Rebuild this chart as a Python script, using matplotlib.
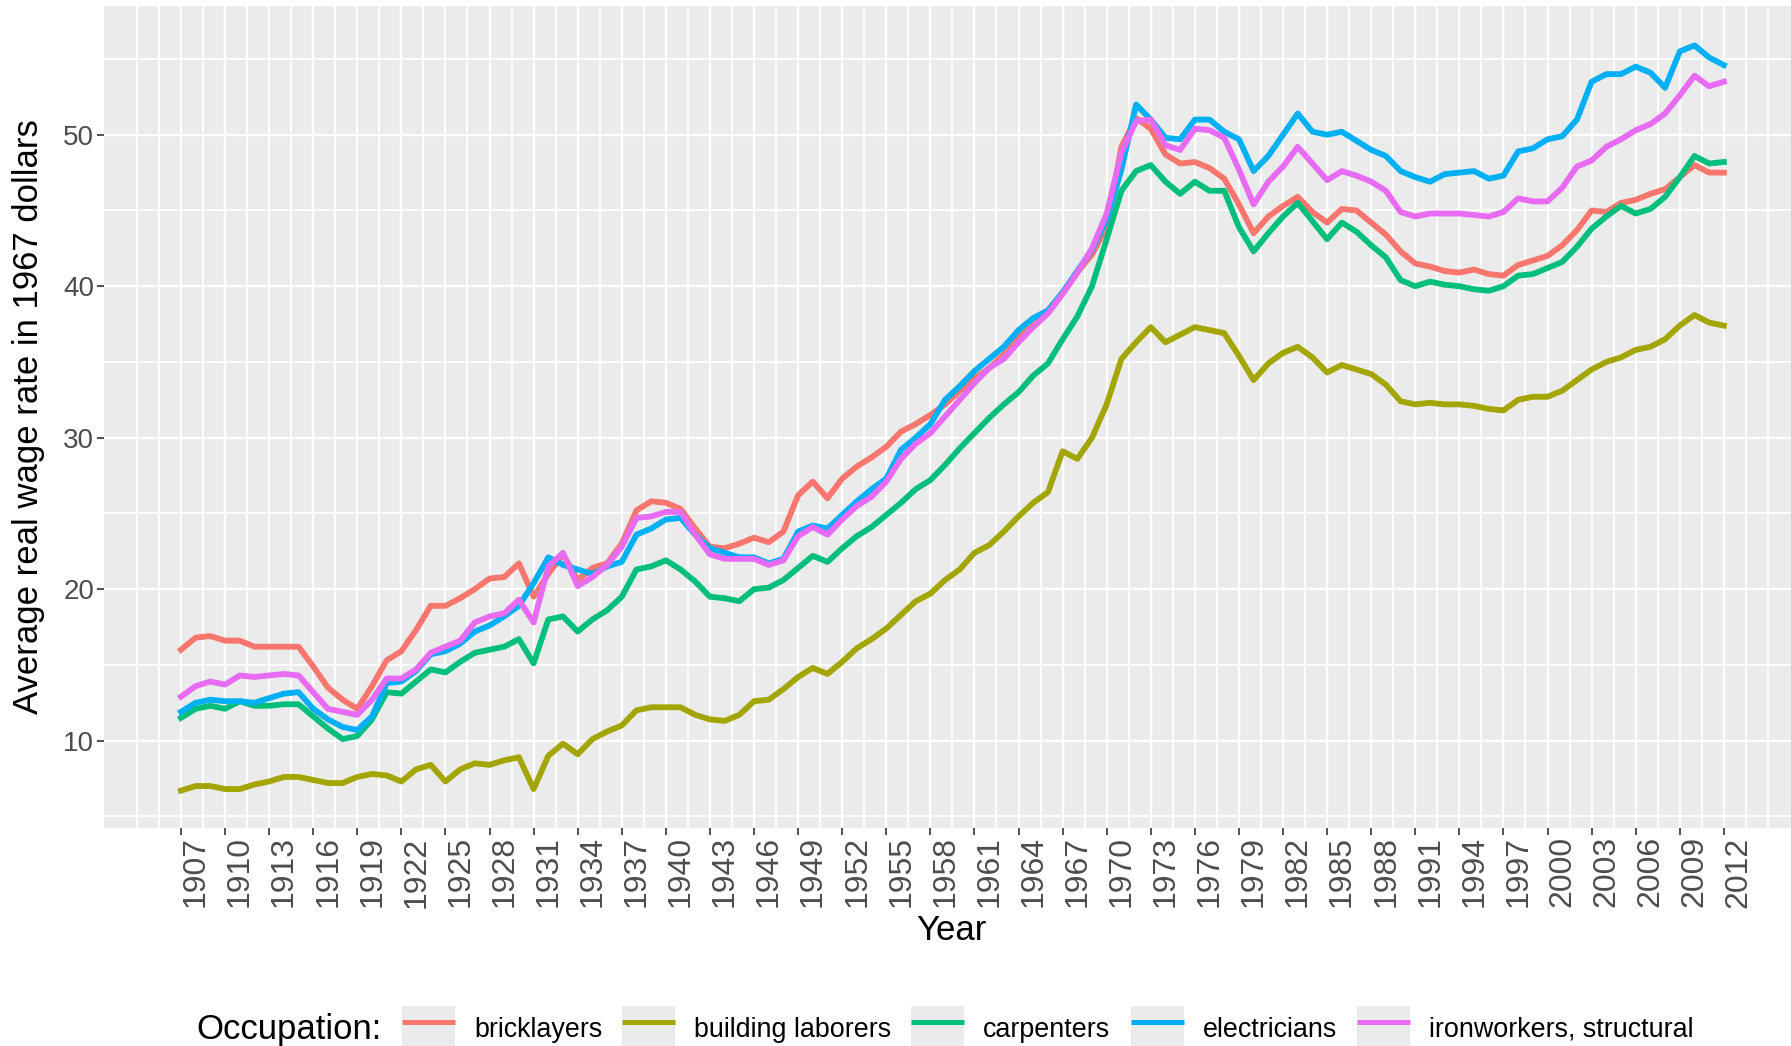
import numpy as np
import matplotlib
matplotlib.use("Agg")
import matplotlib.pyplot as plt
from matplotlib.lines import Line2D
from matplotlib.patches import Rectangle
from matplotlib.legend_handler import HandlerTuple

# Data: average real wage rate (1967 dollars), one value per year 1907-2012
years = np.arange(1907, 2013)

bricklayers = [
    16.0, 16.8, 16.9, 16.6, 16.6, 16.2, 16.2, 16.2, 16.2, 14.9,
    13.5, 12.7, 12.1, 13.6, 15.3, 15.9, 17.3, 18.9, 18.9, 19.4,
    20.0, 20.7, 20.8, 21.7, 19.5, 21.0, 22.3, 20.6, 21.4, 21.7,
    23.0, 25.2, 25.8, 25.7, 25.3, 24.0, 22.8, 22.7, 23.0, 23.4,
    23.1, 23.8, 26.2, 27.1, 26.0, 27.3, 28.1, 28.7, 29.4, 30.4,
    30.9, 31.5, 32.2, 33.1, 33.9, 34.6, 35.5, 36.6, 37.4, 38.3,
    39.5, 40.9, 42.1, 43.9, 49.2, 51.1, 50.4, 48.7, 48.1, 48.2,
    47.8, 47.1, 45.4, 43.5, 44.6, 45.3, 45.9, 44.9, 44.2, 45.1,
    45.0, 44.2, 43.4, 42.3, 41.5, 41.3, 41.0, 40.9, 41.1, 40.8,
    40.7, 41.4, 41.7, 42.0, 42.7, 43.7, 45.0, 44.9, 45.5, 45.7,
    46.1, 46.4, 47.2, 48.0, 47.5, 47.5]

building_laborers = [
    6.7, 7.0, 7.0, 6.8, 6.8, 7.1, 7.3, 7.6, 7.6, 7.4,
    7.2, 7.2, 7.6, 7.8, 7.7, 7.3, 8.1, 8.4, 7.3, 8.1,
    8.5, 8.4, 8.7, 8.9, 6.8, 9.0, 9.8, 9.1, 10.1, 10.6,
    11.0, 12.0, 12.2, 12.2, 12.2, 11.7, 11.4, 11.3, 11.7, 12.6,
    12.7, 13.4, 14.2, 14.8, 14.4, 15.2, 16.1, 16.7, 17.4, 18.3,
    19.2, 19.7, 20.6, 21.3, 22.4, 22.9, 23.8, 24.8, 25.7, 26.4,
    29.1, 28.6, 30.0, 32.2, 35.2, 36.3, 37.3, 36.3, 36.8, 37.3,
    37.1, 36.9, 35.4, 33.8, 34.9, 35.6, 36.0, 35.3, 34.3, 34.8,
    34.5, 34.2, 33.5, 32.4, 32.2, 32.3, 32.2, 32.2, 32.1, 31.9,
    31.8, 32.5, 32.7, 32.7, 33.1, 33.8, 34.5, 35.0, 35.3, 35.8,
    36.0, 36.5, 37.4, 38.1, 37.6, 37.4]

carpenters = [
    11.5, 12.1, 12.3, 12.1, 12.6, 12.3, 12.3, 12.4, 12.4, 11.6,
    10.8, 10.1, 10.3, 11.4, 13.2, 13.1, 13.9, 14.7, 14.5, 15.2,
    15.8, 16.0, 16.2, 16.7, 15.1, 18.0, 18.2, 17.2, 18.0, 18.6,
    19.5, 21.3, 21.5, 21.9, 21.3, 20.5, 19.5, 19.4, 19.2, 20.0,
    20.1, 20.6, 21.4, 22.2, 21.8, 22.7, 23.5, 24.1, 24.9, 25.7,
    26.6, 27.2, 28.2, 29.3, 30.3, 31.3, 32.2, 33.0, 34.1, 34.9,
    36.5, 38.0, 40.0, 43.1, 46.3, 47.6, 48.0, 46.9, 46.1, 46.9,
    46.3, 46.3, 43.9, 42.3, 43.5, 44.6, 45.5, 44.3, 43.1, 44.2,
    43.6, 42.7, 41.9, 40.4, 40.0, 40.3, 40.1, 40.0, 39.8, 39.7,
    40.0, 40.7, 40.8, 41.2, 41.6, 42.6, 43.8, 44.6, 45.3, 44.8,
    45.1, 45.9, 47.2, 48.6, 48.1, 48.2]

electricians = [
    11.9, 12.5, 12.7, 12.6, 12.6, 12.5, 12.8, 13.1, 13.2, 12.1,
    11.4, 10.9, 10.7, 11.6, 13.8, 13.9, 14.6, 15.7, 15.9, 16.4,
    17.2, 17.6, 18.2, 18.9, 20.4, 22.1, 21.6, 21.3, 21.0, 21.5,
    21.8, 23.6, 24.0, 24.6, 24.7, 23.6, 22.7, 22.4, 22.1, 22.1,
    21.7, 22.0, 23.8, 24.2, 24.0, 24.9, 25.8, 26.6, 27.3, 29.2,
    30.0, 30.9, 32.5, 33.4, 34.4, 35.2, 36.0, 37.1, 37.9, 38.4,
    39.6, 41.0, 42.4, 44.4, 47.7, 52.0, 51.0, 49.8, 49.7, 51.0,
    51.0, 50.2, 49.7, 47.6, 48.6, 50.0, 51.4, 50.2, 50.0, 50.2,
    49.6, 49.0, 48.6, 47.6, 47.2, 46.9, 47.4, 47.5, 47.6, 47.1,
    47.3, 48.9, 49.1, 49.7, 49.9, 51.0, 53.5, 54.0, 54.0, 54.5,
    54.1, 53.1, 55.5, 55.9, 55.1, 54.6]

ironworkers = [
    12.9, 13.6, 13.9, 13.7, 14.3, 14.2, 14.3, 14.4, 14.3, 13.2,
    12.1, 11.9, 11.7, 12.7, 14.1, 14.1, 14.7, 15.8, 16.2, 16.6,
    17.8, 18.2, 18.4, 19.3, 17.8, 21.5, 22.4, 20.2, 20.8, 21.6,
    22.8, 24.7, 24.8, 25.1, 25.1, 23.6, 22.3, 22.0, 22.0, 22.0,
    21.6, 21.9, 23.5, 24.1, 23.6, 24.6, 25.5, 26.1, 27.1, 28.6,
    29.6, 30.3, 31.4, 32.5, 33.6, 34.6, 35.2, 36.3, 37.3, 38.2,
    39.5, 40.9, 42.5, 44.8, 48.8, 50.9, 51.0, 49.3, 49.0, 50.4,
    50.3, 49.8, 47.7, 45.4, 46.9, 47.9, 49.2, 48.1, 47.0, 47.6,
    47.3, 46.9, 46.3, 44.9, 44.6, 44.8, 44.8, 44.8, 44.7, 44.6,
    44.9, 45.8, 45.6, 45.6, 46.5, 47.9, 48.3, 49.2, 49.7, 50.3,
    50.7, 51.4, 52.6, 53.9, 53.2, 53.5]

labels = ["bricklayers", "building laborers", "carpenters",
          "electricians", "ironworkers, structural"]
colors = ["#F8766D", "#A3A500", "#00BF7D", "#00B0F6", "#E76BF3"]
series = [bricklayers, building_laborers, carpenters, electricians, ironworkers]

year_ticks = np.arange(1907, 2013, 3)

plt.rcParams['font.family'] = ['Liberation Sans', 'DejaVu Sans']

W, H = 1791, 1046
fig = plt.figure(figsize=(W / 100, H / 100), dpi=100)

# panel in pixel terms (it runs a little past the right edge, like the source)
left, right, top, bottom = 103.8, 1801, 6, 828
ax = fig.add_axes([left / W, 1 - bottom / H, (right - left) / W, (bottom - top) / H])
ax.set_facecolor("#EBEBEB")
for s in ax.spines.values():
    s.set_visible(False)

for vals, col in zip(series, colors):
    ax.plot(years, vals, color=col, lw=4.2, solid_joinstyle="round", zorder=3)

ax.set_xlim(1901.75, 2017.25)
ax.set_ylim(4.23, 58.5)

ax.set_xticks(year_ticks)
ax.set_xticklabels([str(y) for y in year_ticks], rotation=90, ha="left")
ax.set_xticks(np.arange(1904, 2016, 1.5), minor=True)
ax.set_yticks([10, 20, 30, 40, 50])
ax.set_yticks([5, 15, 25, 35, 45, 55], minor=True)

ax.grid(which="major", color="white", lw=1.6, zorder=0)
ax.grid(which="minor", color="white", lw=1.3, zorder=0)
ax.set_axisbelow(True)

ax.tick_params(which="major", length=5, width=1.2, color="#333333",
               labelcolor="#4D4D4D")
ax.tick_params(axis="x", which="major", labelsize=23, pad=1)
ax.tick_params(axis="y", which="major", labelsize=20, pad=2)
ax.tick_params(which="minor", length=0)

# axis titles
fig.text(28.5 / W, 1 - 417 / H, "Average real wage rate in 1967 dollars",
         rotation=90, ha="center", va="center", fontsize=25)
fig.text(951 / W, 1 - 930 / H, "Year", ha="center", va="center", fontsize=25)

# legend along the bottom, ggplot style keys (grey square with the line on top)
handles = []
for col in colors:
    box = Rectangle((0, 0), 1, 1, facecolor="#EBEBEB", edgecolor="none")
    ln = Line2D([], [], color=col, lw=3.6, solid_capstyle="butt")
    handles.append((box, ln))

leg_fs = 19.4
fs_px = leg_fs * 100 / 72
fig.legend(handles, labels, handler_map={tuple: HandlerTuple(ndivide=1, pad=0)},
           loc="center left", bbox_to_anchor=(402 / W, 1 - 1028 / H),
           ncol=5, frameon=False, fontsize=leg_fs,
           handlelength=53 / fs_px, handleheight=56 / fs_px,
           handletextpad=19 / fs_px, columnspacing=20 / fs_px,
           borderpad=0, borderaxespad=0)
fig.text(196 / W, 1 - 1029 / H, "Occupation:", ha="left", va="center", fontsize=25)

fig.savefig("out.png", dpi=100)
